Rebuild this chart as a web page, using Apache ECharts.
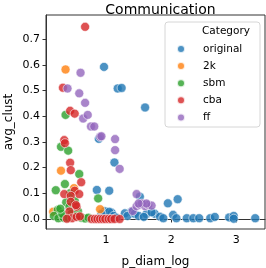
<!DOCTYPE html>
<html>
<head>
<meta charset="utf-8">
<script src="https://cdn.jsdelivr.net/npm/echarts@6/dist/echarts.min.js"></script>
<style>
html,body{margin:0;padding:0;background:#fff;}
#c{width:266px;height:268px;}
</style>
</head>
<body>
<div id="c"></div>
<script>
var categories = ['original', '2k', 'sbm', 'cba', 'ff'];
var xTicks = [1, 2, 3];
var yTicks = [0, 0.1, 0.2, 0.3, 0.4, 0.5, 0.6, 0.7];

var original = [
  [0.97,0.592],[1.18,0.508],[1.24,0.51],[1.60,0.434],[0.89,0.312],[1.13,0.22],
  [0.86,0.113],[1.05,0.11],[1.52,0.087],[1.95,0.061],[2.10,0.077],
  [0.98,0.03],[1.09,0.024],[1.05,0.028],[1.12,0.012],[1.29,0.022],[1.39,0.028],
  [1.33,0.012],[1.44,0.02],[1.50,0.012],[1.62,0.019],[1.58,0.008],[1.75,0.02],
  [1.70,0.026],[1.83,0.009],[1.88,0.003],[2.03,0.016],[2.08,0.003],[2.24,0.003],
  [2.34,0.003],[2.43,0.003],[2.60,0.003],[2.67,0.008],[2.89,0.006],[2.96,0.012],
  [2.96,0.001],[3.29,0.003],[0.93,0.02],[1.16,0.005]
];
var k2 = [
  [0.38,0.582],[0.31,0.188],[0.51,0.12],[0.91,0.038],[0.19,0.028],[0.47,0.02],[0.50,0.06]
];
var sbm = [
  [0.38,0.405],[0.31,0.281],[0.42,0.266],[0.59,0.175],[0.37,0.136],[0.23,0.112],
  [0.88,0.08],[0.39,0.065],[0.26,0.035],[0.20,0.012],[0.27,0.003],[0.35,0.005],
  [0.44,0.048],[0.47,0.02],[0.52,0.07],[0.55,0.01],[0.62,0.005],[0.68,0.002],
  [0.73,0.005],[0.33,0.02],[0.42,0.005],[0.57,0.03],[0.30,0.04],[0.45,0.1]
];
var cba = [
  [0.68,0.748],[0.34,0.511],[0.45,0.421],[0.52,0.41],[0.36,0.307],[0.37,0.295],
  [0.45,0.219],[0.46,0.19],[0.62,0.143],[0.52,0.11],[0.59,0.097],[0.36,0.097],
  [0.46,0.09],[0.46,0.067],[0.55,0.048],[0.44,0.029],[0.48,0.003],[0.55,0.008],
  [0.40,0.001],[0.78,0.0],[0.83,0.0],[0.87,0.0],[0.91,0.0],[0.95,0.0],[0.99,0.0],
  [1.04,0.0],[1.08,0.0],[1.13,0.0],[1.21,0.0],[0.60,0.01],[0.54,0.054]
];
var ff = [
  [0.41,0.508],[0.61,0.569],[0.59,0.489],[0.68,0.452],[0.65,0.391],[0.72,0.405],
  [0.77,0.36],[0.82,0.36],[0.91,0.32],[0.93,0.322],[1.14,0.311],[1.14,0.268],
  [1.21,0.195],[1.47,0.097],[1.41,0.031],[1.47,0.05],[1.52,0.055],[1.57,0.057],
  [1.60,0.05],[1.65,0.055],[1.70,0.052],[1.55,0.06],[1.62,0.06],[1.50,0.06]
];
var seriesData = [original, k2, sbm, cba, ff];
var colors = ['#1f77b4', '#ff7f0e', '#2ca02c', '#d62728', '#9467bd'];

var FONT = 'DejaVu Sans';
var chart = echarts.init(document.getElementById('c'), null, {renderer: 'canvas'});

var series = categories.map(function (name, i) {
  return {
    name: name,
    type: 'scatter',
    data: seriesData[i],
    symbolSize: 9,
    itemStyle: {color: colors[i], opacity: 0.8, borderColor: '#fff', borderWidth: 0.7},
    emphasis: {disabled: true}
  };
});

chart.setOption({
  animation: false,
  title: {
    text: 'Communication', left: 155.5, top: -2, textAlign: 'center',
    textStyle: {fontFamily: FONT, fontSize: 14, fontWeight: 'normal', color: '#000'}
  },
  grid: {left: 46, right: 1, top: 15, bottom: 39, containLabel: false, outerBoundsMode: 'none',
    show: true, borderColor: '#333', borderWidth: 1, backgroundColor: 'transparent'},
  xAxis: {
    type: 'value', min: 0.08, max: 3.44,
    name: 'p_diam_log', nameLocation: 'middle', nameGap: 27,
    nameTextStyle: {fontFamily: FONT, fontSize: 12, color: '#000'},
    axisLine: {show: true, lineStyle: {color: '#333', width: 1}},
    axisTick: {show: true, customValues: xTicks, length: 3.5, lineStyle: {color: '#333'}},
    axisLabel: {customValues: xTicks, fontFamily: FONT, fontSize: 11, color: '#000', margin: 6,
      formatter: function (v) { return String(Math.round(v)); }},
    splitLine: {show: false}
  },
  yAxis: {
    type: 'value', min: -0.039, max: 0.794,
    name: 'avg_clust', nameLocation: 'middle', nameGap: 31, nameMoveOverlap: false,
    nameTextStyle: {fontFamily: FONT, fontSize: 12, color: '#000'},
    axisLine: {show: true, lineStyle: {color: '#333', width: 1}},
    axisTick: {show: true, customValues: yTicks, length: 3.5, lineStyle: {color: '#333'}},
    axisLabel: {customValues: yTicks, fontFamily: FONT, fontSize: 11, color: '#000', margin: 6,
      formatter: function (v) { return v.toFixed(1); }},
    splitLine: {show: false}
  },
  graphic: [
    {type: 'rect', z: 3, shape: {x: 165, y: 22, width: 95, height: 105, r: 3},
      style: {fill: 'rgba(255,255,255,0.85)', stroke: '#d6d6d6', lineWidth: 1}},
    {type: 'text', z: 6, left: 202, top: 26,
      style: {text: 'Category', font: '10.5px "DejaVu Sans"', fill: '#000'}}
  ],
  legend: {
    data: categories, orient: 'vertical', left: 176, top: 43.5, z: 6,
    itemWidth: 8, itemHeight: 8, itemGap: 6.1, padding: 0, icon: 'circle',
    textStyle: {fontFamily: FONT, fontSize: 10.5, color: '#000', padding: [0, 0, 0, 13]},
    selectedMode: false
  },
  series: series
});
</script>
</body>
</html>
